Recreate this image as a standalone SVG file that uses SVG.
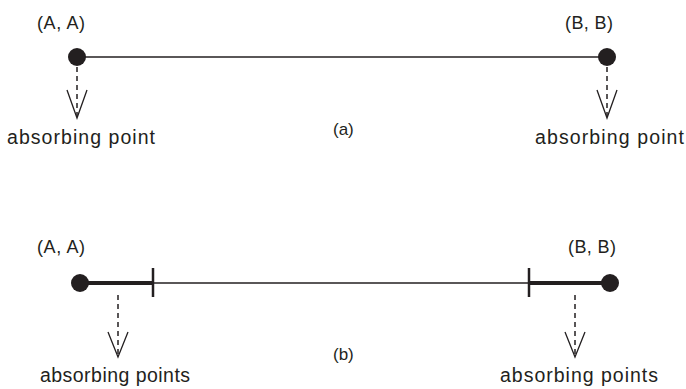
<svg xmlns="http://www.w3.org/2000/svg" width="686" height="389" viewBox="0 0 686 389">
<defs>
<style>
text{font-family:"Liberation Sans",Arial,sans-serif;fill:#231f20;}
.lbl{font-size:18px;}
.abs{font-size:19.5px;}
.cap{font-size:17px;}
.dot{fill:#231f20;}
.thin{stroke:#231f20;stroke-width:1.5;fill:none;}
.thick{stroke:#231f20;stroke-width:4;fill:none;}
.tick{stroke:#231f20;stroke-width:2.5;fill:none;}
.dash{stroke:#231f20;stroke-width:1.5;stroke-dasharray:5 4;fill:none;}
.head{stroke:#231f20;stroke-width:1.3;fill:none;stroke-linejoin:miter;}
</style>
</defs>
<rect width="686" height="389" fill="#fff"/>
<g id="connectors">
<line class="thin" x1="77" y1="57" x2="607" y2="57"/>
<line class="dash" x1="77" y1="67" x2="77" y2="116"/>
<polyline class="head" points="67,90 77,118 87,90"/>
<line class="dash" x1="607" y1="67" x2="607" y2="116"/>
<polyline class="head" points="597,90 607,118 617,90"/>
<line class="thick" x1="80" y1="283" x2="153" y2="283"/>
<line class="thin" x1="153" y1="283" x2="529" y2="283"/>
<line class="thick" x1="529" y1="283" x2="610" y2="283"/>
<line class="tick" x1="153" y1="268" x2="153" y2="297"/>
<line class="tick" x1="529" y1="268" x2="529" y2="297"/>
<line class="dash" x1="118" y1="295" x2="118" y2="355"/>
<polyline class="head" points="108,332 118,357 128,332"/>
<line class="dash" x1="575" y1="295" x2="575" y2="355"/>
<polyline class="head" points="565,332 575,357 585,332"/>
</g>
<g id="node-a-left">
<circle class="dot" cx="77" cy="57" r="9"/>
<text class="lbl" x="37" y="29" textLength="48" lengthAdjust="spacing">(A, A)</text>
<text class="abs" x="7" y="144" textLength="148" lengthAdjust="spacing">absorbing point</text>
</g>
<g id="node-a-right">
<circle class="dot" cx="607" cy="57" r="9"/>
<text class="lbl" x="565" y="29" textLength="48" lengthAdjust="spacing">(B, B)</text>
<text class="abs" x="535" y="144" textLength="149" lengthAdjust="spacing">absorbing point</text>
</g>
<g id="caption-a">
<text class="cap" x="333" y="135">(a)</text>
</g>
<g id="node-b-left">
<circle class="dot" cx="80" cy="283" r="9"/>
<text class="lbl" x="37" y="253" textLength="48" lengthAdjust="spacing">(A, A)</text>
<text class="abs" x="40" y="382" textLength="150" lengthAdjust="spacing">absorbing points</text>
</g>
<g id="node-b-right">
<circle class="dot" cx="610" cy="283" r="9"/>
<text class="lbl" x="568" y="253" textLength="48" lengthAdjust="spacing">(B, B)</text>
<text class="abs" x="500" y="382" textLength="158" lengthAdjust="spacing">absorbing points</text>
</g>
<g id="caption-b">
<text class="cap" x="333" y="360">(b)</text>
</g>
</svg>
